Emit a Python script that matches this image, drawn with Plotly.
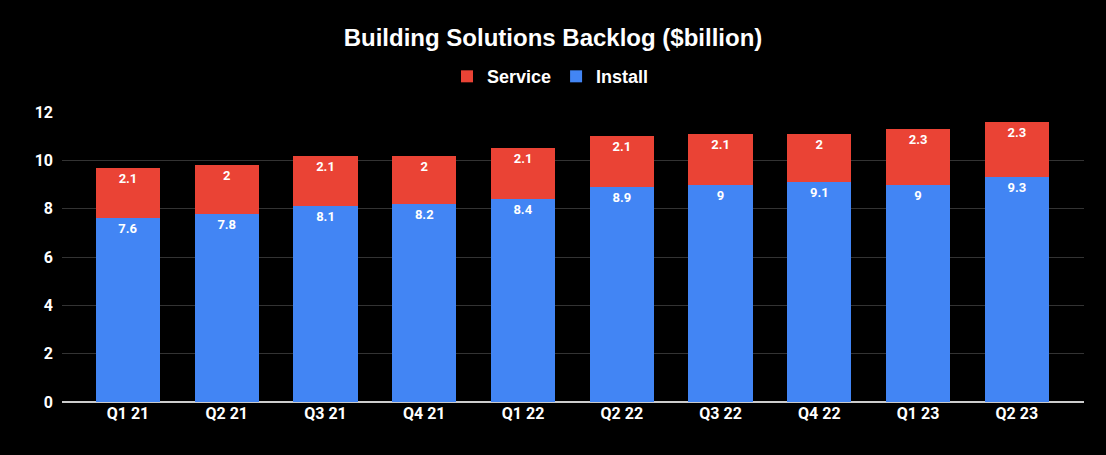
import plotly.graph_objects as go

# Building Solutions backlog by quarter ($billion)
quarters = ["Q1 21", "Q2 21", "Q3 21", "Q4 21", "Q1 22", "Q2 22", "Q3 22", "Q4 22", "Q1 23", "Q2 23"]
install = [7.6, 7.8, 8.1, 8.2, 8.4, 8.9, 9, 9.1, 9, 9.3]
service = [2.1, 2, 2.1, 2, 2.1, 2.1, 2.1, 2, 2.3, 2.3]
y_ticks = [0, 2, 4, 6, 8, 10, 12]

label_font = dict(family="Roboto", size=13, color="white", weight="bold")
tick_font = dict(family="Roboto", size=16, color="white", weight="bold")

fig = go.Figure()
fig.add_trace(go.Bar(x=quarters, y=install, name="Install", marker_color="#4285F4",
                     marker_line_width=0,
                     text=install, textposition="inside", insidetextanchor="end",
                     textfont=label_font, width=0.65))
fig.add_trace(go.Bar(x=quarters, y=service, name="Service", marker_color="#EA4335",
                     marker_line_width=0,
                     text=service, textposition="inside", insidetextanchor="end",
                     textfont=label_font, width=0.65))

fig.update_layout(
    barmode="stack",
    width=1106, height=455,
    paper_bgcolor="black", plot_bgcolor="black",
    margin=dict(l=62, r=22, t=112, b=53),
    title=dict(text="<b>Building Solutions Backlog ($billion)</b>", x=0.5, xanchor="center",
               y=0.918, yanchor="middle",
               font=dict(family="Liberation Sans", size=24, color="white")),
    legend=dict(orientation="h", x=0.478, xanchor="center", y=1.122, yanchor="middle",
                traceorder="reversed", itemwidth=30,
                font=dict(family="Liberation Sans", size=18, color="white", weight="bold")),
    uniformtext=dict(minsize=13, mode="show"),
    font=dict(family="Roboto", color="white"),
)
fig.update_xaxes(range=[-0.668, 9.68], showgrid=False, ticks="", tickfont=tick_font,
                 showline=False, zeroline=False)
fig.update_yaxes(range=[0, 12], tickvals=y_ticks, gridcolor="#333333", gridwidth=1,
                 zeroline=True, zerolinecolor="#cccccc", zerolinewidth=1.5,
                 tickfont=tick_font, ticklabelstandoff=8)

fig.write_html("out.html", config={"displayModeBar": False},
               post_script="document.body.style.margin='0';")
